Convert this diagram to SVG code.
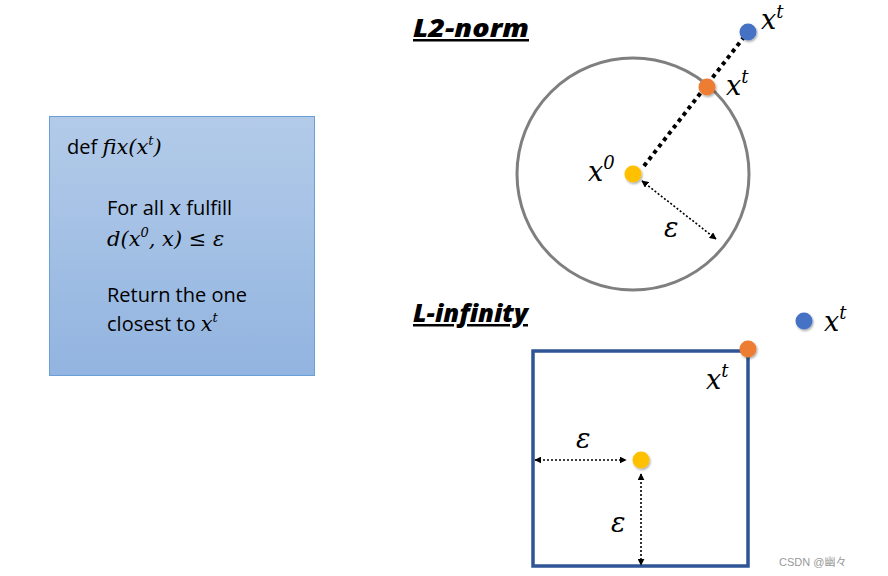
<svg xmlns="http://www.w3.org/2000/svg" width="888" height="576" viewBox="0 0 888 576">
<defs>
<linearGradient id="boxg" x1="0" y1="0" x2="0" y2="1">
<stop offset="0" stop-color="#b3cbe9"/>
<stop offset="1" stop-color="#92b4e0"/>
</linearGradient>
<filter id="sh" x="-50%" y="-50%" width="200%" height="200%">
<feDropShadow dx="1" dy="1.5" stdDeviation="1.2" flood-color="#000" flood-opacity="0.35"/>
</filter>
<marker id="ah" viewBox="0 0 10 10" refX="9" refY="5" markerWidth="7" markerHeight="7" orient="auto-start-reverse" markerUnits="userSpaceOnUse">
<path d="M0,0 L10,5 L0,10 z" fill="#000"/>
</marker>
<style>
.sans{font-family:"Open Sans","Liberation Sans",sans-serif;font-size:20px;fill:#000}
.m{font-family:"DejaVu Serif","Liberation Serif",serif;font-style:italic;fill:#000}
.mb{font-size:21px}
.ms{font-size:13px}
.big{font-size:27px}
.sup{font-size:18px}
.head{font-family:"Open Sans","Liberation Sans",sans-serif;font-weight:800;font-style:italic;font-size:25px;fill:#000;text-decoration:underline}
.eps{stroke:#000;stroke-width:1.6;stroke-dasharray:2 2;fill:none}
.thick{stroke:#000;stroke-width:4;stroke-dasharray:4 4;fill:none}
.dotY{fill:#ffc000}
.dotO{fill:#ed7d31}
.dotB{fill:#4472c4}
</style>
</defs>
<rect width="888" height="576" fill="#fff"/>

<g id="fixbox">
<rect x="49.5" y="116.5" width="265" height="259" fill="url(#boxg)" stroke="#6a9fd8" stroke-width="1"/>
<text x="67" y="154" class="sans">def <tspan class="m mb">fix(x</tspan><tspan class="m ms" dy="-9">t</tspan><tspan class="m mb" dy="9">)</tspan></text>
<text x="107" y="215" class="sans">For all <tspan class="m mb">x</tspan> fulfill</text>
<text x="107" y="246" class="m mb">d(x<tspan class="ms" dy="-9">0</tspan><tspan dy="9">, x) ≤ ε</tspan></text>
<text x="107" y="302" class="sans">Return the one</text>
<text x="107" y="331" class="sans">closest to <tspan class="m mb">x</tspan><tspan class="m ms" dy="-9">t</tspan></text>
</g>

<g id="l2">
<text x="413" y="37" class="head" textLength="116" lengthAdjust="spacingAndGlyphs">L2-norm </text>
<circle cx="633" cy="174" r="116" fill="none" stroke="#7f7f7f" stroke-width="3"/>
</g>

<g id="linf">
<text x="413" y="322" class="head" textLength="115" lengthAdjust="spacingAndGlyphs">L-infinity</text>
<rect x="533" y="351" width="215" height="215" fill="none" stroke="#2f5597" stroke-width="3.5"/>
</g>

<g id="connectors">
<line x1="644" y1="166" x2="744" y2="37" class="thick"/>
<line x1="642" y1="181" x2="716" y2="239" class="eps" marker-start="url(#ah)" marker-end="url(#ah)"/>
<line x1="535" y1="460" x2="626" y2="460" class="eps" marker-start="url(#ah)" marker-end="url(#ah)"/>
<line x1="641" y1="474" x2="641" y2="565" class="eps" marker-start="url(#ah)" marker-end="url(#ah)"/>
</g>

<g id="x0-l2">
<circle cx="633" cy="174" r="8.5" class="dotY" filter="url(#sh)"/>
<text x="588" y="181" class="m big">x<tspan class="sup" dy="-12">0</tspan></text>
</g>
<g id="xt-proj-l2">
<circle cx="707" cy="87" r="8.5" class="dotO" filter="url(#sh)"/>
<text x="726" y="95" class="m big">x<tspan class="sup" dy="-12">t</tspan></text>
</g>
<g id="xt-l2">
<circle cx="748" cy="32" r="8.5" class="dotB" filter="url(#sh)"/>
<text x="761" y="29" class="m big">x<tspan class="sup" dy="-11">t</tspan></text>
</g>
<text x="664" y="237" class="m big">ε</text>

<g id="x0-linf">
<circle cx="641" cy="460" r="8.5" class="dotY" filter="url(#sh)"/>
</g>
<g id="xt-proj-linf">
<circle cx="748" cy="349" r="8.5" class="dotO" filter="url(#sh)"/>
<text x="706" y="389" class="m big">x<tspan class="sup" dy="-12">t</tspan></text>
</g>
<g id="xt-linf">
<circle cx="804" cy="321" r="8.5" class="dotB" filter="url(#sh)"/>
<text x="824" y="331" class="m big">x<tspan class="sup" dy="-12">t</tspan></text>
</g>
<text x="576" y="448" class="m big">ε</text>
<text x="611" y="532" class="m big">ε</text>

<text x="779" y="566" font-family="'Liberation Sans','Noto Sans CJK SC',sans-serif" font-size="11" fill="#999">CSDN @幽々</text>
</svg>
